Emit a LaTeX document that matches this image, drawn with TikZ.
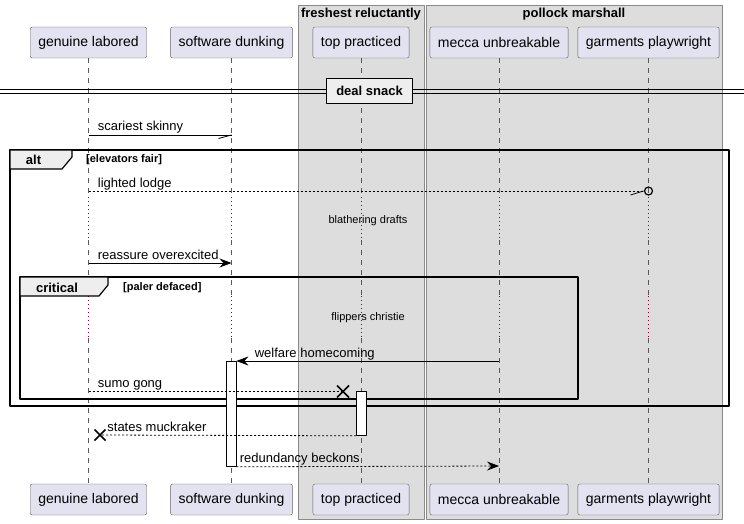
\documentclass[tikz,border=0pt]{standalone}
\usepackage{fontspec}
\setmainfont{Liberation Sans}
\usetikzlibrary{arrows.meta,positioning,calc}
\definecolor{partfill}{HTML}{E2E2F0}
\definecolor{partline}{HTML}{5F5F5F}
\definecolor{boxfill}{HTML}{DDDDDD}
\definecolor{boxline}{HTML}{8A8A8A}
\definecolor{tabfill}{HTML}{EEEEEE}
\definecolor{delayred}{HTML}{8B0035}
\newcommand{\pfont}{\fontsize{14}{16}\selectfont}
\newcommand{\mfont}{\fontsize{13}{15}\selectfont}
\newcommand{\sfont}{\fontsize{11}{13}\selectfont}
\begin{document}
\begin{tikzpicture}[x=1pt,y=-1pt,>={Stealth[length=12pt,width=9pt,inset=4pt]},line join=round,
	part/.style={draw=partline,fill=partfill,rounded corners=2pt,minimum height=31pt,inner xsep=8pt,font=\pfont},
	lifeline/.style={gray!70!black,line width=0.5pt,dash pattern=on 5pt off 5pt},
	delayline/.style={delayred,line width=1pt,dash pattern=on 1pt off 3pt},
	msg/.style={line width=0.8pt},
	msgtxt/.style={anchor=base west,inner sep=0pt,font=\mfont},
	grpbox/.style={draw=boxline,fill=boxfill,line width=0.7pt},
	frame/.style={draw=black,line width=1.5pt},
	tab/.style={draw=black,fill=tabfill,line width=1.2pt},
	actbar/.style={draw=black,fill=white,line width=0.8pt,minimum width=10pt,inner sep=0pt,anchor=north},
	cross/.style={line width=1.6pt}]
	\useasboundingbox (0,0) rectangle (744,524);
	% boxes round the participants
	\draw[grpbox] (298,5) rectangle (424,519);
	\draw[grpbox] (426,5) rectangle (722,519);
	\node[font=\mfont\bfseries] (fr) at (361,14.5) {freshest reluctantly};
	\node[font=\mfont\bfseries] (pm) at (574,14.5) {pollock marshall};
	% participants
	\node[part] (gl) at (88.5,42.5) {genuine labored};
	\node[part] (sd) at (231.5,42.5) {software dunking};
	\node[part] (tp) at (361,42.5) {top practiced};
	\node[part] (mu) at (499,42.5) {mecca unbreakable};
	\node[part] (gp) at (648.5,42.5) {garments playwright};
	\node[part] (gl-b) at (88.5,499.5) {genuine labored};
	\node[part] (sd-b) at (231.5,499.5) {software dunking};
	\node[part] (tp-b) at (361,499.5) {top practiced};
	\node[part] (mu-b) at (499,499.5) {mecca unbreakable};
	\node[part] (gp-b) at (648.5,499.5) {garments playwright};
	\foreach \p in {gl,sd,tp,mu,gp}{
		\draw[lifeline] (\p.south) -- (\p |- 0,197);
		\draw[delayline] (\p |- 0,197) -- (\p |- 0,240);
		\draw[lifeline] (\p |- 0,240) -- (\p |- 0,296);
		\draw[delayline] (\p |- 0,296) -- (\p |- 0,338);
		\draw[lifeline] (\p |- 0,338) -- (\p-b.north);
	}
	% divider
	\draw[line width=0.8pt] (0,89) -- (744,89) (0,93) -- (744,93);
	\node[draw=black,fill=tabfill,line width=1.5pt,font=\mfont\bfseries,minimum width=86pt,minimum height=25pt,inner sep=0pt] (ds) at (369.5,91) {deal snack};
	% frames
	\draw[frame] (10,150) rectangle (729,406);
	\draw[tab] (10,150) -- (72,150) -- (72,157) -- (62,169) -- (10,169) -- cycle;
	\node[font=\mfont\bfseries] (alt) at (33.5,160) {alt};
	\node[anchor=west,inner sep=0pt,font=\sfont\bfseries] (altc) at (86,160) {[elevators fair]};
	\draw[frame] (20,277) rectangle (578,399);
	\draw[tab] (20,277) -- (108,277) -- (108,285) -- (99,296) -- (20,296) -- cycle;
	\node[font=\mfont\bfseries] (crit) at (57,287.5) {critical};
	\node[anchor=west,inner sep=0pt,font=\sfont\bfseries] (critc) at (123,288) {[paler defaced]};
	% delays
	\node[font=\sfont,inner sep=0pt] (d1) at (368,221) {blathering drafts};
	\node[font=\sfont,inner sep=0pt] (d2) at (368,318) {flippers christie};
	% activations
	\node[actbar,minimum height=105pt] (sdact) at (231,361) {};
	\node[actbar,minimum height=44pt] (tpact) at (361.5,391) {};
	% messages
	\draw[msg] (gl |- 0,135) -- (sd |- 0,135) node[msgtxt,pos=0,xshift=9pt,yshift=4pt] {scariest skinny};
	\draw[msg] ($(sd |- 0,135)+(-13,3.5)$) -- (sd |- 0,135);
	\coordinate (lodge) at (643.5,191);
	\draw[msg,dash pattern=on 2pt off 2pt] (gl |- 0,191) -- (lodge) node[msgtxt,pos=0,xshift=9pt,yshift=4pt] {lighted lodge};
	\draw[line width=1.2pt] (gp |- 0,191) circle (4);
	\draw[msg] ($(lodge)+(-13,4)$) -- (lodge);
	\draw[msg,->] (gl |- 0,263) -- (sd |- 0,263) node[msgtxt,pos=0,xshift=9pt,yshift=4pt] {reassure overexcited};
	\draw[msg,->] (mu |- 0,361) -- (sdact.north east) node[msgtxt,pos=1,xshift=18pt,yshift=4pt] {welfare homecoming};
	\coordinate (gong) at (343,391.5);
	\draw[msg,dash pattern=on 2pt off 2pt] (gl |- 0,391.5) -- (gong) node[msgtxt,pos=0,xshift=9pt,yshift=4pt] {sumo gong};
	\draw[cross] ($(gong)+(-6,-6)$) -- ($(gong)+(6,6)$) ($(gong)+(-6,6)$) -- ($(gong)+(6,-6)$);
	\coordinate (muck) at (100,435);
	\draw[msg,dash pattern=on 2pt off 2pt] (tpact.south west) -- (muck) node[msgtxt,pos=1,xshift=7pt,yshift=4pt] {states muckraker};
	\draw[cross] ($(muck)+(-5.5,-5.5)$) -- ($(muck)+(5.5,5.5)$) ($(muck)+(-5.5,5.5)$) -- ($(muck)+(5.5,-5.5)$);
	\draw[msg,->,dash pattern=on 2pt off 2pt] (sdact.south east) -- (mu |- 0,466) node[msgtxt,pos=0,xshift=3pt,yshift=4pt] {redundancy beckons};
\end{tikzpicture}
\end{document}
